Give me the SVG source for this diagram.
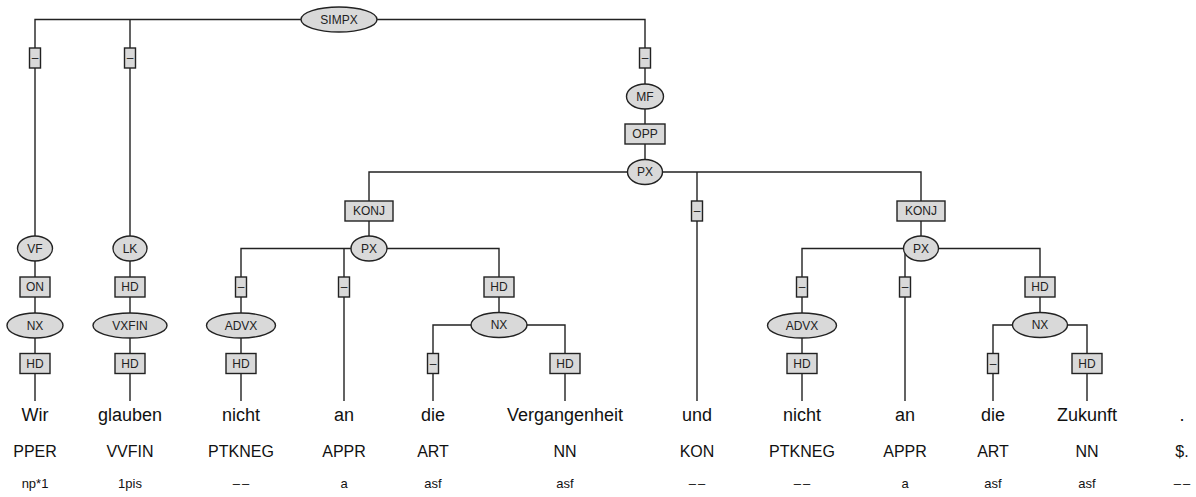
<svg xmlns="http://www.w3.org/2000/svg" width="1196" height="497" viewBox="0 0 1196 497">
<style>
.c{stroke:#222;stroke-width:1.4;fill:none}
.n{fill:#d9d9d9;stroke:#222;stroke-width:1.4}
.l{font-family:"Liberation Sans",Arial,sans-serif;font-size:12px;fill:#222;text-anchor:middle}
.w{font-family:"Liberation Sans",Arial,sans-serif;font-size:18px;fill:#111;text-anchor:middle}
.p{font-family:"Liberation Sans",Arial,sans-serif;font-size:16px;fill:#111;text-anchor:middle}
.m{font-family:"Liberation Sans",Arial,sans-serif;font-size:13px;fill:#111;text-anchor:middle}
.d{letter-spacing:2px}
</style>
<rect width="1196" height="497" fill="#fff"/>
<g id="connectors">
<path class="c" d="M35 248V19.5H645V172M130 19.5V248"/>
<path class="c" d="M369 248.5V172H921V248.5M697 172V401"/>
<path class="c" d="M35 248V401M130 248V401"/>
<path class="c" d="M241 401V248.5H499V325M344 248.5V401"/>
<path class="c" d="M433 401V325H565V401"/>
<path class="c" d="M802 401V248.5H1040V325M905 248.5V401"/>
<path class="c" d="M993 401V325H1087V401"/>
</g>
<g id="n-simpx"><ellipse class="n" cx="339" cy="19.5" rx="38" ry="12.5"/><text class="l" x="339" y="23.8">SIMPX</text></g>
<g id="e-vf"><rect class="n" x="29.5" y="48" width="11" height="20"/><text class="l" x="35" y="62.3">–</text></g>
<g id="e-lk"><rect class="n" x="124.5" y="48" width="11" height="20"/><text class="l" x="130" y="62.3">–</text></g>
<g id="e-mf"><rect class="n" x="639.5" y="48" width="11" height="20"/><text class="l" x="645" y="62.3">–</text></g>
<g id="n-mf"><ellipse class="n" cx="645" cy="96.5" rx="18.5" ry="12.5"/><text class="l" x="645" y="100.8">MF</text></g>
<g id="e-opp"><rect class="n" x="625" y="124" width="40" height="20"/><text class="l" x="645" y="138.3">OPP</text></g>
<g id="n-px1"><ellipse class="n" cx="645" cy="172" rx="17.5" ry="12.5"/><text class="l" x="645" y="176.3">PX</text></g>
<g id="e-konj1"><rect class="n" x="345" y="201" width="48" height="20"/><text class="l" x="369" y="215.3">KONJ</text></g>
<g id="e-und"><rect class="n" x="691.5" y="201" width="11" height="20"/><text class="l" x="697" y="215.3">–</text></g>
<g id="e-konj2"><rect class="n" x="897" y="201" width="48" height="20"/><text class="l" x="921" y="215.3">KONJ</text></g>
<g id="n-vf"><ellipse class="n" cx="35" cy="248.5" rx="17.5" ry="12.5"/><text class="l" x="35" y="252.8">VF</text></g>
<g id="e-on"><rect class="n" x="20" y="277" width="30" height="20"/><text class="l" x="35" y="291.3">ON</text></g>
<g id="n-nx1"><ellipse class="n" cx="35" cy="325.5" rx="28" ry="12.5"/><text class="l" x="35" y="329.8">NX</text></g>
<g id="e-hd1"><rect class="n" x="20" y="353.5" width="30" height="20"/><text class="l" x="35" y="367.8">HD</text></g>
<g id="n-lk"><ellipse class="n" cx="130" cy="248.5" rx="17" ry="12.5"/><text class="l" x="130" y="252.8">LK</text></g>
<g id="e-hd2"><rect class="n" x="115" y="277" width="30" height="20"/><text class="l" x="130" y="291.3">HD</text></g>
<g id="n-vxfin"><ellipse class="n" cx="130" cy="325.5" rx="37" ry="12.5"/><text class="l" x="130" y="329.8">VXFIN</text></g>
<g id="e-hd3"><rect class="n" x="115" y="353.5" width="30" height="20"/><text class="l" x="130" y="367.8">HD</text></g>
<g id="n-px2"><ellipse class="n" cx="369" cy="248.5" rx="18" ry="12.5"/><text class="l" x="369" y="252.8">PX</text></g>
<g id="e-advx1"><rect class="n" x="235.5" y="277" width="11" height="20"/><text class="l" x="241" y="291.3">–</text></g>
<g id="e-an1"><rect class="n" x="338.5" y="277" width="11" height="20"/><text class="l" x="344" y="291.3">–</text></g>
<g id="e-hd4"><rect class="n" x="484" y="277" width="30" height="20"/><text class="l" x="499" y="291.3">HD</text></g>
<g id="n-advx1"><ellipse class="n" cx="241" cy="325.5" rx="34.5" ry="12.5"/><text class="l" x="241" y="329.8">ADVX</text></g>
<g id="e-hd5"><rect class="n" x="226" y="353.5" width="30" height="20"/><text class="l" x="241" y="367.8">HD</text></g>
<g id="n-nx2"><ellipse class="n" cx="499" cy="325" rx="28" ry="12.5"/><text class="l" x="499" y="329.3">NX</text></g>
<g id="e-die1"><rect class="n" x="427.5" y="353.5" width="11" height="20"/><text class="l" x="433" y="367.8">–</text></g>
<g id="e-hd6"><rect class="n" x="550" y="353.5" width="30" height="20"/><text class="l" x="565" y="367.8">HD</text></g>
<g id="n-px3"><ellipse class="n" cx="921" cy="248.5" rx="17.5" ry="12.5"/><text class="l" x="921" y="252.8">PX</text></g>
<g id="e-advx2"><rect class="n" x="796.5" y="277" width="11" height="20"/><text class="l" x="802" y="291.3">–</text></g>
<g id="e-an2"><rect class="n" x="899.5" y="277" width="11" height="20"/><text class="l" x="905" y="291.3">–</text></g>
<g id="e-hd7"><rect class="n" x="1025" y="277" width="30" height="20"/><text class="l" x="1040" y="291.3">HD</text></g>
<g id="n-advx2"><ellipse class="n" cx="802" cy="325.5" rx="34.5" ry="12.5"/><text class="l" x="802" y="329.8">ADVX</text></g>
<g id="e-hd8"><rect class="n" x="787" y="353.5" width="30" height="20"/><text class="l" x="802" y="367.8">HD</text></g>
<g id="n-nx3"><ellipse class="n" cx="1040" cy="325" rx="27.5" ry="12.5"/><text class="l" x="1040" y="329.3">NX</text></g>
<g id="e-die2"><rect class="n" x="987.5" y="353.5" width="11" height="20"/><text class="l" x="993" y="367.8">–</text></g>
<g id="e-hd9"><rect class="n" x="1072" y="353.5" width="30" height="20"/><text class="l" x="1087" y="367.8">HD</text></g>
<g id="words">
<text class="w" x="35" y="421">Wir</text><text class="w" x="130" y="421">glauben</text><text class="w" x="241" y="421">nicht</text><text class="w" x="344" y="421">an</text><text class="w" x="433" y="421">die</text><text class="w" x="565" y="421">Vergangenheit</text><text class="w" x="697" y="421">und</text><text class="w" x="802" y="421">nicht</text><text class="w" x="905" y="421">an</text><text class="w" x="993" y="421">die</text><text class="w" x="1087" y="421">Zukunft</text><text class="w" x="1182" y="421">.</text>
</g>
<g id="pos">
<text class="p" x="35" y="457">PPER</text><text class="p" x="130" y="457">VVFIN</text><text class="p" x="241" y="457">PTKNEG</text><text class="p" x="344" y="457">APPR</text><text class="p" x="433" y="457">ART</text><text class="p" x="565" y="457">NN</text><text class="p" x="697" y="457">KON</text><text class="p" x="802" y="457">PTKNEG</text><text class="p" x="905" y="457">APPR</text><text class="p" x="993" y="457">ART</text><text class="p" x="1087" y="457">NN</text><text class="p" x="1182" y="457">$.</text>
</g>
<g id="morph">
<text class="m" x="35" y="488">np*1</text><text class="m" x="130" y="488">1pis</text><text class="m d" x="242" y="488">––</text><text class="m" x="344" y="488">a</text><text class="m" x="433" y="488">asf</text><text class="m" x="565" y="488">asf</text><text class="m d" x="698" y="488">––</text><text class="m d" x="803" y="488">––</text><text class="m" x="905" y="488">a</text><text class="m" x="993" y="488">asf</text><text class="m" x="1087" y="488">asf</text><text class="m d" x="1183" y="488">––</text>
</g>
</svg>
